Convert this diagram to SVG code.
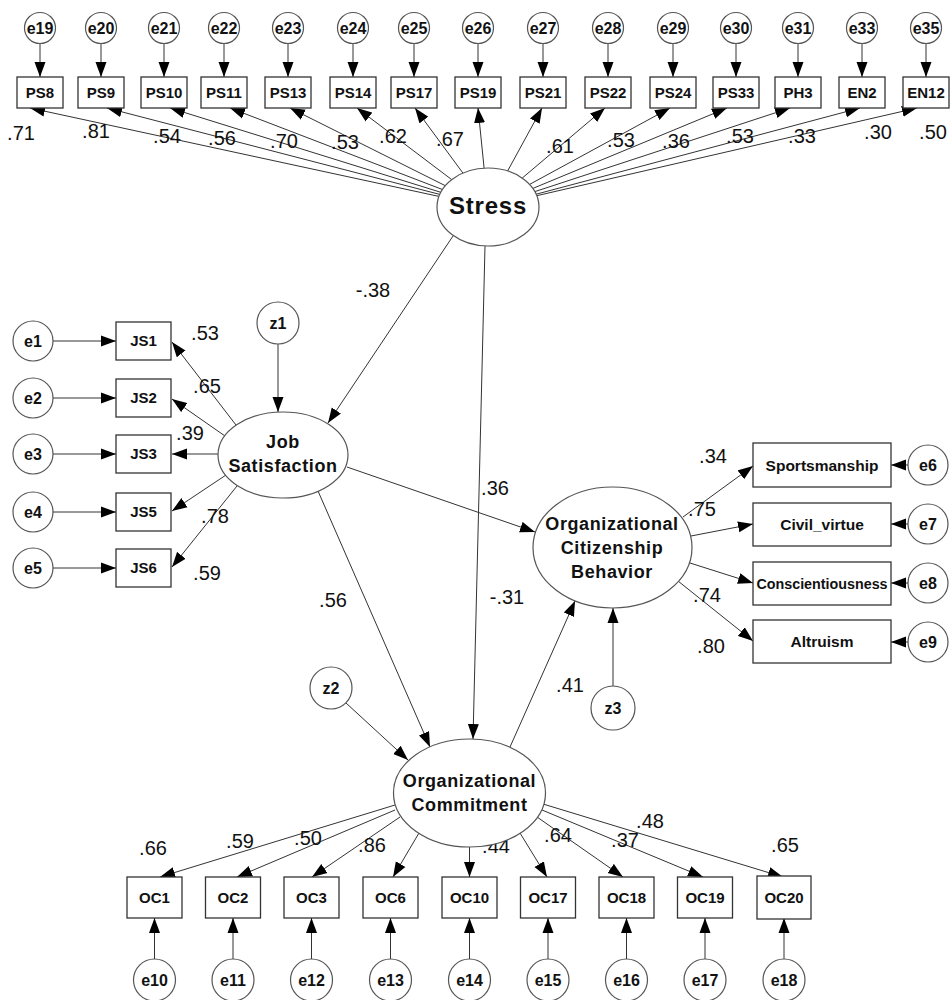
<svg xmlns="http://www.w3.org/2000/svg" width="950" height="1000" viewBox="0 0 950 1000">
<defs>
<marker id="ah" markerUnits="userSpaceOnUse" markerWidth="15" markerHeight="12" refX="15" refY="6" orient="auto"><path d="M0,0.5 L15,6 L0,11.5 z" fill="#000"/></marker>
<style>
.c line{stroke:#333;stroke-width:1;marker-end:url(#ah)}
.bx{fill:#fff;stroke:#333;stroke-width:1.3}
.ov{fill:#fff;stroke:#555;stroke-width:1.2}
.t{font-family:"Liberation Sans",Arial,sans-serif;font-weight:bold;text-anchor:middle;fill:#111}
.b{font-size:15px}
.e{font-size:16px}
.lat{font-size:18px;letter-spacing:0.6px}
.n{font-family:"Liberation Sans",Arial,sans-serif;font-size:20px;text-anchor:middle;fill:#111}
</style>
</defs>
<rect width="950" height="1000" fill="#fff"/>
<g id="connectors" class="c">
<!-- error to PS row -->
<line x1="40" y1="43.5" x2="40" y2="77"/>
<line x1="101" y1="43.5" x2="101" y2="77"/>
<line x1="164" y1="43.5" x2="164" y2="77"/>
<line x1="224" y1="43.5" x2="224" y2="77"/>
<line x1="288" y1="43.5" x2="288" y2="77"/>
<line x1="353" y1="43.5" x2="353" y2="77"/>
<line x1="414" y1="43.5" x2="414" y2="77"/>
<line x1="478" y1="43.5" x2="478" y2="77"/>
<line x1="543" y1="43.5" x2="543" y2="77"/>
<line x1="608" y1="43.5" x2="608" y2="77"/>
<line x1="673" y1="43.5" x2="673" y2="77"/>
<line x1="736" y1="43.5" x2="736" y2="77"/>
<line x1="798" y1="43.5" x2="798" y2="77"/>
<line x1="862" y1="43.5" x2="862" y2="77"/>
<line x1="926" y1="43.5" x2="926" y2="77"/>
<!-- Stress to PS -->
<line x1="438.9" y1="196.4" x2="30" y2="108"/>
<line x1="439.7" y1="194.4" x2="107" y2="108"/>
<line x1="440.8" y1="192.3" x2="170" y2="108"/>
<line x1="442.4" y1="189.5" x2="230" y2="108"/>
<line x1="445.3" y1="185.7" x2="290" y2="108"/>
<line x1="451.7" y1="179.6" x2="357" y2="108"/>
<line x1="462.9" y1="173" x2="415" y2="108"/>
<line x1="484.1" y1="168.1" x2="478" y2="108"/>
<line x1="507.6" y1="171" x2="542" y2="108"/>
<line x1="522.2" y1="178.1" x2="605" y2="108"/>
<line x1="529.6" y1="184.4" x2="670" y2="108"/>
<line x1="532.9" y1="188.4" x2="727" y2="108"/>
<line x1="534.9" y1="191.6" x2="790" y2="108"/>
<line x1="536.2" y1="194.2" x2="860" y2="108"/>
<line x1="536.8" y1="195.7" x2="917" y2="108"/>
<!-- structural -->
<line x1="453" y1="236" x2="328" y2="423"/>
<line x1="485" y1="246" x2="473" y2="739"/>
<line x1="347" y1="467" x2="535" y2="532"/>
<line x1="318" y1="491" x2="430" y2="747"/>
<line x1="510" y1="747" x2="575" y2="601"/>
<line x1="278" y1="344" x2="278" y2="412"/>
<line x1="346" y1="703" x2="408" y2="760"/>
<line x1="613" y1="686" x2="613" y2="608"/>
<!-- JS indicators -->
<line x1="236" y1="425" x2="172" y2="342"/>
<line x1="225" y1="436" x2="172" y2="399"/>
<line x1="218" y1="454" x2="172" y2="454"/>
<line x1="226" y1="475" x2="172" y2="511"/>
<line x1="237" y1="486" x2="172" y2="567"/>
<line x1="53" y1="341" x2="116" y2="341"/>
<line x1="53" y1="398" x2="116" y2="398"/>
<line x1="53" y1="454" x2="116" y2="454"/>
<line x1="53" y1="512" x2="116" y2="512"/>
<line x1="53" y1="568" x2="116" y2="568"/>
<!-- OCB indicators -->
<line x1="683" y1="517" x2="753" y2="466"/>
<line x1="691" y1="536" x2="753" y2="524"/>
<line x1="690" y1="563" x2="753" y2="583"/>
<line x1="678" y1="581" x2="753" y2="641"/>
<line x1="908" y1="465" x2="891" y2="465"/>
<line x1="908" y1="524" x2="891" y2="524"/>
<line x1="908" y1="583" x2="891" y2="583"/>
<line x1="908" y1="642" x2="891" y2="642"/>
<!-- OC indicators -->
<line x1="395" y1="805" x2="160" y2="877"/>
<line x1="395" y1="810" x2="237" y2="877"/>
<line x1="400" y1="817" x2="312" y2="877"/>
<line x1="419" y1="833" x2="393" y2="877"/>
<line x1="469.5" y1="847" x2="469.5" y2="877"/>
<line x1="520" y1="833" x2="547" y2="877"/>
<line x1="537" y1="817" x2="623" y2="877"/>
<line x1="542" y1="810" x2="703" y2="877"/>
<line x1="543" y1="804" x2="783" y2="877"/>
<line x1="154.5" y1="959" x2="154.5" y2="918"/>
<line x1="233" y1="959" x2="233" y2="918"/>
<line x1="311.5" y1="959" x2="311.5" y2="918"/>
<line x1="390.5" y1="959" x2="390.5" y2="918"/>
<line x1="469.5" y1="959" x2="469.5" y2="918"/>
<line x1="548" y1="959" x2="548" y2="918"/>
<line x1="626.5" y1="959" x2="626.5" y2="918"/>
<line x1="705" y1="959" x2="705" y2="918"/>
<line x1="784" y1="959" x2="784" y2="918"/>
</g>
<g id="labels">
<text class="n" x="21" y="140">.71</text>
<text class="n" x="96" y="138">.81</text>
<text class="n" x="167" y="143">.54</text>
<text class="n" x="222" y="145">.56</text>
<text class="n" x="284" y="148">.70</text>
<text class="n" x="345" y="149">.53</text>
<text class="n" x="393" y="143">.62</text>
<text class="n" x="450" y="146">.67</text>
<text class="n" x="560" y="153">.61</text>
<text class="n" x="621" y="147">.53</text>
<text class="n" x="676" y="148">.36</text>
<text class="n" x="740" y="143">.53</text>
<text class="n" x="802" y="143">.33</text>
<text class="n" x="878" y="139">.30</text>
<text class="n" x="933" y="139">.50</text>
<text class="n" x="373" y="297">-.38</text>
<text class="n" x="495" y="495">.36</text>
<text class="n" x="507" y="604">-.31</text>
<text class="n" x="333" y="607">.56</text>
<text class="n" x="570" y="692">.41</text>
<text class="n" x="205" y="340">.53</text>
<text class="n" x="207" y="393">.65</text>
<text class="n" x="190" y="440">.39</text>
<text class="n" x="215" y="523">.78</text>
<text class="n" x="207" y="580">.59</text>
<text class="n" x="713" y="463">.34</text>
<text class="n" x="702" y="516">.75</text>
<text class="n" x="707" y="602">.74</text>
<text class="n" x="711" y="653">.80</text>
<text class="n" x="153" y="855">.66</text>
<text class="n" x="240" y="848">.59</text>
<text class="n" x="308" y="845">.50</text>
<text class="n" x="372" y="852">.86</text>
<text class="n" x="496" y="853">.44</text>
<text class="n" x="558" y="842">.64</text>
<text class="n" x="625" y="847">.37</text>
<text class="n" x="650" y="828">.48</text>
<text class="n" x="785" y="852">.65</text>
</g>
<!-- Latent variables -->
<g id="Stress"><ellipse class="ov" cx="488" cy="207" rx="51" ry="39"/><text class="t" x="488" y="214" style="font-size:24px;letter-spacing:0.8px">Stress</text></g>
<g id="JobSatisfaction"><ellipse class="ov" cx="283" cy="455" rx="65" ry="43"/><text class="t lat" x="283" y="448">Job</text><text class="t lat" x="283" y="472">Satisfaction</text></g>
<g id="OCB"><ellipse class="ov" cx="612.5" cy="547.5" rx="79.5" ry="60.5"/><text class="t lat" x="612" y="530">Organizational</text><text class="t lat" x="612" y="554">Citizenship</text><text class="t lat" x="612" y="578">Behavior</text></g>
<g id="OC"><ellipse class="ov" cx="469.5" cy="793" rx="76" ry="54"/><text class="t lat" x="469.5" y="787">Organizational</text><text class="t lat" x="469.5" y="811">Commitment</text></g>
<g id="z1"><circle class="ov" cx="278" cy="323" r="21"/><text class="t e" x="278" y="329">z1</text></g>
<g id="z2"><circle class="ov" cx="331" cy="688" r="21"/><text class="t e" x="331" y="694">z2</text></g>
<g id="z3"><circle class="ov" cx="613" cy="708" r="22"/><text class="t e" x="613" y="714">z3</text></g>
<!-- PS row -->
<g id="PS8"><rect class="bx" x="17" y="77" width="46" height="31"/><text class="t b" x="40" y="98">PS8</text></g>
<g id="PS9"><rect class="bx" x="78" y="77" width="46" height="31"/><text class="t b" x="101" y="98">PS9</text></g>
<g id="PS10"><rect class="bx" x="141" y="77" width="46" height="31"/><text class="t b" x="164" y="98">PS10</text></g>
<g id="PS11"><rect class="bx" x="201" y="77" width="46" height="31"/><text class="t b" x="224" y="98">PS11</text></g>
<g id="PS13"><rect class="bx" x="265" y="77" width="46" height="31"/><text class="t b" x="288" y="98">PS13</text></g>
<g id="PS14"><rect class="bx" x="330" y="77" width="46" height="31"/><text class="t b" x="353" y="98">PS14</text></g>
<g id="PS17"><rect class="bx" x="391" y="77" width="46" height="31"/><text class="t b" x="414" y="98">PS17</text></g>
<g id="PS19"><rect class="bx" x="455" y="77" width="46" height="31"/><text class="t b" x="478" y="98">PS19</text></g>
<g id="PS21"><rect class="bx" x="520" y="77" width="46" height="31"/><text class="t b" x="543" y="98">PS21</text></g>
<g id="PS22"><rect class="bx" x="585" y="77" width="46" height="31"/><text class="t b" x="608" y="98">PS22</text></g>
<g id="PS24"><rect class="bx" x="650" y="77" width="46" height="31"/><text class="t b" x="673" y="98">PS24</text></g>
<g id="PS33"><rect class="bx" x="713" y="77" width="46" height="31"/><text class="t b" x="736" y="98">PS33</text></g>
<g id="PH3"><rect class="bx" x="775" y="77" width="46" height="31"/><text class="t b" x="798" y="98">PH3</text></g>
<g id="EN2"><rect class="bx" x="839" y="77" width="46" height="31"/><text class="t b" x="862" y="98">EN2</text></g>
<g id="EN12"><rect class="bx" x="903" y="77" width="46" height="31"/><text class="t b" x="926" y="98">EN12</text></g>
<g id="e19"><circle class="ov" cx="40" cy="28" r="15.5"/><text class="t e" x="40" y="34">e19</text></g>
<g id="e20"><circle class="ov" cx="101" cy="28" r="15.5"/><text class="t e" x="101" y="34">e20</text></g>
<g id="e21"><circle class="ov" cx="164" cy="28" r="15.5"/><text class="t e" x="164" y="34">e21</text></g>
<g id="e22"><circle class="ov" cx="224" cy="28" r="15.5"/><text class="t e" x="224" y="34">e22</text></g>
<g id="e23"><circle class="ov" cx="288" cy="28" r="15.5"/><text class="t e" x="288" y="34">e23</text></g>
<g id="e24"><circle class="ov" cx="353" cy="28" r="15.5"/><text class="t e" x="353" y="34">e24</text></g>
<g id="e25"><circle class="ov" cx="414" cy="28" r="15.5"/><text class="t e" x="414" y="34">e25</text></g>
<g id="e26"><circle class="ov" cx="478" cy="28" r="15.5"/><text class="t e" x="478" y="34">e26</text></g>
<g id="e27"><circle class="ov" cx="543" cy="28" r="15.5"/><text class="t e" x="543" y="34">e27</text></g>
<g id="e28"><circle class="ov" cx="608" cy="28" r="15.5"/><text class="t e" x="608" y="34">e28</text></g>
<g id="e29"><circle class="ov" cx="673" cy="28" r="15.5"/><text class="t e" x="673" y="34">e29</text></g>
<g id="e30"><circle class="ov" cx="736" cy="28" r="15.5"/><text class="t e" x="736" y="34">e30</text></g>
<g id="e31"><circle class="ov" cx="798" cy="28" r="15.5"/><text class="t e" x="798" y="34">e31</text></g>
<g id="e33"><circle class="ov" cx="862" cy="28" r="15.5"/><text class="t e" x="862" y="34">e33</text></g>
<g id="e35"><circle class="ov" cx="926" cy="28" r="15.5"/><text class="t e" x="926" y="34">e35</text></g>
<!-- JS indicators -->
<g id="JS1"><rect class="bx" x="116" y="322" width="55" height="38"/><text class="t b" x="143.5" y="346">JS1</text></g>
<g id="JS2"><rect class="bx" x="116" y="379" width="55" height="38"/><text class="t b" x="143.5" y="403">JS2</text></g>
<g id="JS3"><rect class="bx" x="116" y="435" width="55" height="38"/><text class="t b" x="143.5" y="459">JS3</text></g>
<g id="JS5"><rect class="bx" x="116" y="493" width="55" height="38"/><text class="t b" x="143.5" y="517">JS5</text></g>
<g id="JS6"><rect class="bx" x="116" y="549" width="55" height="38"/><text class="t b" x="143.5" y="573">JS6</text></g>
<g id="e1"><circle class="ov" cx="33" cy="341" r="20"/><text class="t e" x="33" y="347">e1</text></g>
<g id="e2"><circle class="ov" cx="33" cy="398" r="20"/><text class="t e" x="33" y="404">e2</text></g>
<g id="e3"><circle class="ov" cx="33" cy="454" r="20"/><text class="t e" x="33" y="460">e3</text></g>
<g id="e4"><circle class="ov" cx="33" cy="512" r="20"/><text class="t e" x="33" y="518">e4</text></g>
<g id="e5"><circle class="ov" cx="33" cy="568" r="20"/><text class="t e" x="33" y="574">e5</text></g>
<!-- OCB indicators -->
<g id="Sportsmanship"><rect class="bx" x="753" y="443" width="138" height="44"/><text class="t" x="822" y="471" style="font-size:15.5px">Sportsmanship</text></g>
<g id="Civil_virtue"><rect class="bx" x="753" y="503" width="138" height="43"/><text class="t" x="822" y="530" style="font-size:15.5px">Civil_virtue</text></g>
<g id="Conscientiousness"><rect class="bx" x="753" y="562" width="138" height="43"/><text class="t" x="822" y="589" style="font-size:14.3px">Conscientiousness</text></g>
<g id="Altruism"><rect class="bx" x="753" y="620" width="138" height="43"/><text class="t" x="822" y="647" style="font-size:15.5px">Altruism</text></g>
<g id="e6"><circle class="ov" cx="928" cy="465" r="20"/><text class="t e" x="928" y="471">e6</text></g>
<g id="e7"><circle class="ov" cx="928" cy="524" r="20"/><text class="t e" x="928" y="530">e7</text></g>
<g id="e8"><circle class="ov" cx="928" cy="583" r="20"/><text class="t e" x="928" y="589">e8</text></g>
<g id="e9"><circle class="ov" cx="928" cy="642" r="20"/><text class="t e" x="928" y="648">e9</text></g>
<!-- OC indicators -->
<g id="OC1"><rect class="bx" x="127" y="877" width="55" height="41"/><text class="t b" x="154.5" y="903">OC1</text></g>
<g id="OC2"><rect class="bx" x="205.5" y="877" width="55" height="41"/><text class="t b" x="233" y="903">OC2</text></g>
<g id="OC3"><rect class="bx" x="284" y="877" width="55" height="41"/><text class="t b" x="311.5" y="903">OC3</text></g>
<g id="OC6"><rect class="bx" x="363" y="877" width="55" height="41"/><text class="t b" x="390.5" y="903">OC6</text></g>
<g id="OC10"><rect class="bx" x="442" y="877" width="55" height="41"/><text class="t b" x="469.5" y="903">OC10</text></g>
<g id="OC17"><rect class="bx" x="520.5" y="877" width="55" height="41"/><text class="t b" x="548" y="903">OC17</text></g>
<g id="OC18"><rect class="bx" x="599" y="877" width="55" height="41"/><text class="t b" x="626.5" y="903">OC18</text></g>
<g id="OC19"><rect class="bx" x="677.5" y="877" width="55" height="41"/><text class="t b" x="705" y="903">OC19</text></g>
<g id="OC20"><rect class="bx" x="757" y="876" width="54" height="43"/><text class="t b" x="784" y="903">OC20</text></g>
<g id="e10"><circle class="ov" cx="154.5" cy="980" r="21"/><text class="t e" x="154.5" y="986">e10</text></g>
<g id="e11"><circle class="ov" cx="233" cy="980" r="21"/><text class="t e" x="233" y="986">e11</text></g>
<g id="e12"><circle class="ov" cx="311.5" cy="980" r="21"/><text class="t e" x="311.5" y="986">e12</text></g>
<g id="e13"><circle class="ov" cx="390.5" cy="980" r="21"/><text class="t e" x="390.5" y="986">e13</text></g>
<g id="e14"><circle class="ov" cx="469.5" cy="980" r="21"/><text class="t e" x="469.5" y="986">e14</text></g>
<g id="e15"><circle class="ov" cx="548" cy="980" r="21"/><text class="t e" x="548" y="986">e15</text></g>
<g id="e16"><circle class="ov" cx="626.5" cy="980" r="21"/><text class="t e" x="626.5" y="986">e16</text></g>
<g id="e17"><circle class="ov" cx="705" cy="980" r="21"/><text class="t e" x="705" y="986">e17</text></g>
<g id="e18"><circle class="ov" cx="784" cy="980" r="21"/><text class="t e" x="784" y="986">e18</text></g>
</svg>
